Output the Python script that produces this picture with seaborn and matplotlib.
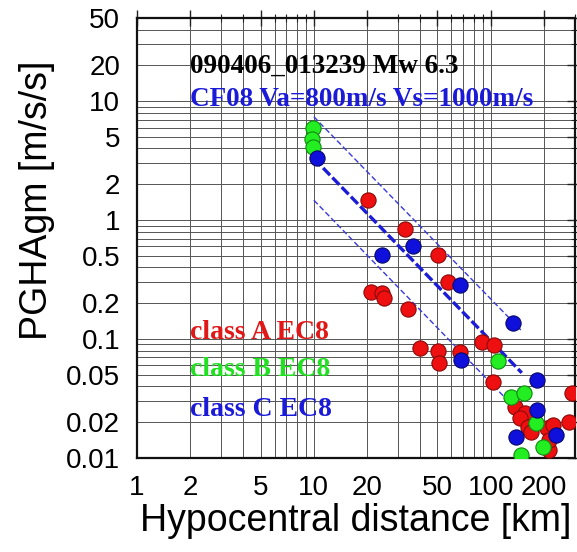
import numpy as np
import pandas as pd
import matplotlib
matplotlib.use("Agg")
import matplotlib.pyplot as plt
import matplotlib.ticker as mticker
import seaborn as sns

# Station values (distance km, PGHA m/s/s)
classA_dist = [20.2, 32.7, 50.2, 57.2, 21.0, 24.2, 24.8, 34.0, 39.7, 50.2, 50.9, 66.8,
               89.0, 104, 103, 137, 156, 146, 162, 207, 215, 287, 276, 224, 170, 215]
classA_pgha = [1.47, 0.84, 0.51, 0.30, 0.248, 0.243, 0.221, 0.179, 0.084, 0.079, 0.063, 0.078,
               0.094, 0.089, 0.0435, 0.0268, 0.0239, 0.0217, 0.0182, 0.0179, 0.0117, 0.035, 0.0201,
               0.0189, 0.0165, 0.0142]
classB_dist = [9.87, 9.75, 9.9, 110, 130, 154, 180, 197, 148]
classB_pgha = [5.93, 4.80, 4.10, 0.065, 0.0326, 0.0352, 0.0197, 0.0124, 0.0106]
classC_dist = [10.4, 36.3, 24.2, 66.8, 67.7, 133, 182, 182, 140, 233]
classC_pgha = [3.32, 0.60, 0.51, 0.284, 0.0666, 0.136, 0.045, 0.0253, 0.015, 0.0156]

# CF08 prediction (median and +/- one sigma), endpoints
model_dist = [10, 150]
model_median = [3.3, 0.052]
model_upper = [7.4, 0.117]
model_lower = [1.47, 0.023]

x_ticks = [1, 2, 5, 10, 20, 50, 100, 200]
y_ticks = [0.01, 0.02, 0.05, 0.1, 0.2, 0.5, 1, 2, 5, 10, 20, 50]

sns.set_theme(style="white")
plt.rcParams['font.family'] = ['Liberation Sans', 'DejaVu Sans']
plt.rcParams['text.color'] = 'black'
plt.rcParams['axes.labelcolor'] = 'black'
plt.rcParams['xtick.color'] = 'black'
plt.rcParams['ytick.color'] = 'black'

fig = plt.figure(figsize=(5.77, 5.52), dpi=100)
ax = fig.add_axes([137 / 577, 1 - 458 / 552, 438 / 577, 440 / 552])

ax.set_xscale('log')
ax.set_yscale('log')
ax.set_xlim(1, 300)
ax.set_ylim(0.01, 50)

# grid on every 1..9 x 10^k
ax.xaxis.set_major_locator(mticker.FixedLocator(x_ticks))
ax.yaxis.set_major_locator(mticker.FixedLocator(y_ticks))
ax.xaxis.set_minor_locator(mticker.LogLocator(base=10, subs=np.arange(1, 10)))
ax.yaxis.set_minor_locator(mticker.LogLocator(base=10, subs=np.arange(1, 10)))
ax.xaxis.set_minor_formatter(mticker.NullFormatter())
ax.yaxis.set_minor_formatter(mticker.NullFormatter())
ax.set_xticklabels([str(v) for v in x_ticks])
ax.set_yticklabels([f"{v:g}" for v in y_ticks])
ax.grid(which='both', color='#555555', linewidth=0.7)
ax.set_axisbelow(True)

# model lines
mdl = pd.DataFrame({'dist': model_dist, 'median': model_median,
                    'upper': model_upper, 'lower': model_lower})
for col in ['upper', 'lower']:
    ax.plot(mdl['dist'], mdl[col], color='#3a3adf', lw=1.0, ls=(0, (4, 2)), zorder=3)
ax.plot(mdl['dist'], mdl['median'], color='#1c1cd8', lw=2.4, ls=(0, (3, 1)), zorder=3)

classes = [
    (classA_dist, classA_pgha, '#ee1010', '#8a0a0a'),
    (classB_dist, classB_pgha, '#22ee22', '#118811'),
    (classC_dist, classC_pgha, '#1010dd', '#08086a'),
]
for dist, pgha, col, edge in classes:
    df = pd.DataFrame({'dist': dist, 'pgha': pgha})
    sns.scatterplot(data=df, x='dist', y='pgha', ax=ax, color=col, edgecolor=edge,
                    linewidth=0.8, s=120, zorder=4, legend=False)

ax.set_xlabel('Hypocentral distance [km]', fontsize=27, labelpad=2)
ax.set_ylabel('PGHAgm [m/s/s]', fontsize=27)
ax.yaxis.set_label_coords(-0.187, 0.586)
ax.tick_params(axis='both', which='major', labelsize=20, direction='inout', length=12,
               width=1, color='#222222', top=True, right=True, pad=6)
ax.tick_params(axis='both', which='minor', direction='inout', length=6, width=0.8,
               color='#222222', top=True, right=True)
for sp in ax.spines.values():
    sp.set_color('#111111')
    sp.set_linewidth(1.6)

serif = ['Liberation Serif', 'DejaVu Serif']
ax.text(0.12, 0.89, '090406_013239 Mw 6.3', transform=ax.transAxes, fontsize=19.5,
        family=serif, weight='bold', color='black', va='center')
ax.text(0.12, 0.815, 'CF08 Va=800m/s Vs=1000m/s', transform=ax.transAxes, fontsize=19.5,
        family=serif, weight='bold', color='#1a1ad8', va='center')
ax.text(0.12, 0.286, 'class A EC8', transform=ax.transAxes, fontsize=20,
        family=serif, weight='bold', color='#e01818', va='center')
ax.text(0.12, 0.2, 'class B EC8', transform=ax.transAxes, fontsize=20,
        family=serif, weight='bold', color='#22e022', va='center')
ax.text(0.12, 0.11, 'class C EC8', transform=ax.transAxes, fontsize=20,
        family=serif, weight='bold', color='#1a1ad8', va='center')

fig.savefig('out.png', dpi=100)
